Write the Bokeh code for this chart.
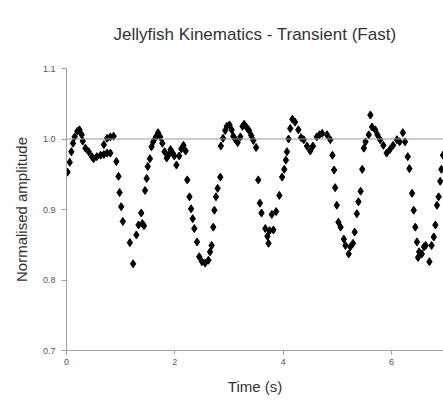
from bokeh.plotting import figure
from bokeh.models import Range1d, Span, FixedTicker, PrintfTickFormatter
from bokeh.embed import file_html
from bokeh.resources import INLINE

title_text = "Jellyfish Kinematics - Transient (Fast)"
x_label = "Time (s)"
y_label = "Normalised amplitude"
x_ticks = [0, 2, 4, 6]
y_ticks = [0.7, 0.8, 0.9, 1.0, 1.1]

time_s = [
    0.02, 0.06, 0.09, 0.12, 0.15, 0.20, 0.24, 0.28, 0.30, 0.35, 0.41, 0.47, 0.50,
    0.56, 0.63, 0.69, 0.75, 0.81, 0.69, 0.75, 0.81, 0.87,
    0.92, 0.96, 0.98, 1.01, 1.04, 1.17, 1.23,
    1.29, 1.33, 1.38, 1.40, 1.43, 1.45, 1.48, 1.50, 1.54, 1.57, 1.60, 1.65, 1.69,
    1.73, 1.77, 1.81, 1.85, 1.89, 1.92, 1.96, 1.99, 2.03, 2.08, 2.12, 2.16, 2.20,
    2.23, 2.27, 2.30, 2.33, 2.36, 2.41, 2.45, 2.50, 2.56, 2.62, 2.65, 2.68, 2.71,
    2.73, 2.76, 2.79, 2.84,
    2.85, 2.89, 2.93, 2.96, 3.01, 3.05, 3.08, 3.12, 3.16, 3.21, 3.25, 3.28, 3.33,
    3.37, 3.41, 3.45, 3.50,
    3.54, 3.57, 3.60, 3.67, 3.71, 3.73, 3.75, 3.79, 3.82, 3.87, 3.93, 3.98, 4.02,
    4.05, 4.07, 4.10, 4.13, 4.17, 4.22, 4.28, 4.33, 4.38, 4.44, 4.50, 4.55, 4.62,
    4.67, 4.72, 4.81, 4.87,
    4.91, 4.94, 4.96, 4.99, 5.02, 5.06, 5.12, 5.15, 5.21, 5.24, 5.29, 5.32, 5.36,
    5.39, 5.43, 5.46, 5.49, 5.52, 5.58, 5.61, 5.64, 5.70, 5.74, 5.79, 5.85, 5.91,
    5.97, 6.03, 6.10, 6.15, 6.21, 6.25, 6.30, 6.33, 6.38, 6.41, 6.44, 6.47, 6.49,
    6.51, 6.56, 6.60, 6.63, 6.70, 6.74, 6.78, 6.81, 6.84, 6.87, 6.90, 6.92, 6.95,
]
amplitude = [
    0.953, 0.967, 0.982, 0.994, 1.003, 1.011, 1.013, 1.006, 0.997, 0.987, 0.982, 0.975, 0.972,
    0.975, 0.977, 0.978, 0.980, 0.980, 0.992, 1.001, 1.003, 1.004,
    0.968, 0.947, 0.924, 0.904, 0.883, 0.853, 0.823,
    0.864, 0.878, 0.895, 0.880, 0.877, 0.927, 0.944, 0.961, 0.972, 0.989, 0.996, 1.003, 1.009,
    1.003, 0.994, 0.982, 0.973, 0.978, 0.985, 0.980, 0.976, 0.963, 0.976, 0.986, 0.991, 0.983,
    0.942, 0.918, 0.901, 0.887, 0.873, 0.854, 0.833, 0.826, 0.824, 0.828, 0.840, 0.849, 0.875,
    0.899, 0.918, 0.930, 0.946,
    0.990, 1.001, 1.012, 1.018, 1.020, 1.013, 1.004, 0.999, 0.995, 1.003, 1.018, 1.021, 1.016,
    1.012, 1.005, 0.998, 0.988,
    0.942, 0.909, 0.895, 0.873, 0.862, 0.852, 0.870, 0.893, 0.871, 0.897, 0.920, 0.946, 0.957,
    0.970, 0.982, 1.000, 1.015, 1.028, 1.024, 1.013, 1.002, 0.999, 0.990, 0.983, 0.990, 1.003,
    1.006, 1.008, 1.006, 0.999,
    0.977, 0.956, 0.931, 0.906, 0.882, 0.875, 0.858, 0.849, 0.837, 0.847, 0.852, 0.868, 0.894,
    0.911, 0.926, 0.957, 0.987, 0.996, 1.006, 1.034, 1.017, 1.013, 1.006, 0.999, 0.991, 0.980,
    0.985, 0.991, 0.999, 0.996, 1.009, 0.996, 0.975, 0.958, 0.923, 0.899, 0.875, 0.854, 0.832,
    0.840, 0.837, 0.847, 0.849, 0.826, 0.849, 0.861, 0.878, 0.906, 0.918, 0.940, 0.957, 0.977,
]

FONT = "Liberation Sans"

p = figure(width=443, height=405,
           x_range=Range1d(0, 6.96), y_range=Range1d(0.7, 1.1),
           output_backend="svg", toolbar_location=None,
           min_border_left=66, min_border_right=0,
           min_border_top=68, min_border_bottom=55,
           title=title_text)

p.title.text_font = FONT
p.title.text_font_size = "17px"
p.title.text_font_style = "normal"
p.title.text_color = "#333333"
p.title.align = "center"
p.title.vertical_align = "top"
p.title.standoff = 46

p.outline_line_color = None
p.xgrid.visible = False
p.ygrid.visible = False
p.background_fill_color = "white"
p.border_fill_color = "white"

p.add_layout(Span(location=1.0, dimension="width", line_color="#9a9a9a", line_width=1))

xax = p.below[0]
yax = p.left[0]
for ax in (xax, yax):
    ax.axis_line_color = "#a0a0a0"
    ax.major_tick_line_color = "#a0a0a0"
    ax.minor_tick_line_color = None
    ax.major_label_text_font = FONT
    ax.major_label_text_font_size = "9px"
    ax.major_label_text_color = "#555555"
    ax.axis_label_text_font = FONT
    ax.axis_label_text_font_size = "15px"
    ax.axis_label_text_font_style = "normal"
    ax.axis_label_text_color = "#333333"

xax.ticker = FixedTicker(ticks=x_ticks)
yax.ticker = FixedTicker(ticks=y_ticks)
yax.formatter = PrintfTickFormatter(format="%.1f")
xax.axis_label = x_label
yax.axis_label = y_label
xax.major_tick_in = 0
xax.major_tick_out = 4
yax.major_tick_in = 0
yax.major_tick_out = 5
xax.major_label_standoff = 4
yax.major_label_standoff = 6
xax.axis_label_standoff = 10
yax.axis_label_standoff = 10

p.scatter(time_s, amplitude, marker="diamond", size=8, color="black")

open("out.html", "w").write(file_html(p, INLINE))
